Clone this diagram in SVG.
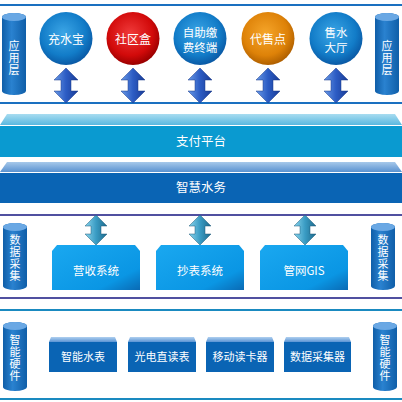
<svg xmlns="http://www.w3.org/2000/svg" width="402" height="402" viewBox="0 0 402 402">
<defs>
<radialGradient id="gBlue" cx="0.45" cy="0.4" r="0.6"><stop offset="0" stop-color="#3ca6e6"/><stop offset="0.7" stop-color="#127cc8"/><stop offset="1" stop-color="#0a5aa6"/></radialGradient>
<radialGradient id="gRed" cx="0.45" cy="0.4" r="0.6"><stop offset="0" stop-color="#f03a3a"/><stop offset="0.7" stop-color="#d20a0a"/><stop offset="1" stop-color="#9a0000"/></radialGradient>
<radialGradient id="gOrange" cx="0.45" cy="0.4" r="0.6"><stop offset="0" stop-color="#f5a52a"/><stop offset="0.7" stop-color="#de8208"/><stop offset="1" stop-color="#b06000"/></radialGradient>
<linearGradient id="gCyl" x1="0" y1="0" x2="1" y2="0"><stop offset="0" stop-color="#0f5ea8"/><stop offset="0.4" stop-color="#2a82d0"/><stop offset="1" stop-color="#0f5ea8"/></linearGradient>
<linearGradient id="gArrow" x1="0" y1="0" x2="1" y2="0"><stop offset="0" stop-color="#6a9ae6"/><stop offset="0.5" stop-color="#2c5cc4"/><stop offset="1" stop-color="#1a3c96"/></linearGradient>
<linearGradient id="gTeal" x1="0" y1="0" x2="1" y2="0"><stop offset="0" stop-color="#8ad4ec"/><stop offset="0.5" stop-color="#3a9cc4"/><stop offset="1" stop-color="#1e6a8c"/></linearGradient>
<linearGradient id="gTrap1" x1="0" y1="0" x2="0" y2="1"><stop offset="0" stop-color="#a8dcf0"/><stop offset="1" stop-color="#5ab8e0"/></linearGradient>
<linearGradient id="gTrap2" x1="0" y1="0" x2="0" y2="1"><stop offset="0" stop-color="#a6c8ea"/><stop offset="1" stop-color="#5a92d0"/></linearGradient>
<linearGradient id="gSys" x1="0" y1="0" x2="1" y2="1"><stop offset="0" stop-color="#1aa8f0"/><stop offset="0.75" stop-color="#0a96e4"/><stop offset="1" stop-color="#0a6ab4"/></linearGradient>
<linearGradient id="gHwTop" x1="0" y1="0" x2="0" y2="1"><stop offset="0" stop-color="#b0d0f0"/><stop offset="1" stop-color="#5a94d4"/></linearGradient>
</defs>
<style>
.t{font-family:"Noto Sans CJK SC","Liberation Sans",sans-serif;fill:#fff;text-anchor:middle}
.c{font-size:12px}
.c2{font-size:11.5px}
.b{font-size:12.5px}
.s{font-size:11.5px}
.h{font-size:11px}
.v{font-size:11px;writing-mode:vertical-rl;letter-spacing:1px}
.cyl{fill:url(#gCyl)}
.cyltop{fill:#6aa8e4}
.arr{fill:url(#gArrow);stroke:#1a3a8a;stroke-width:0.5}
.tarr{fill:url(#gTeal);stroke:#1e5a78;stroke-width:0.5}
.sys{fill:url(#gSys)}
.hwtop{fill:url(#gHwTop)}
.hw{fill:#0a64b4}
</style>

<g id="frames">
<line x1="0" y1="5" x2="402" y2="5" stroke="#1a70c0" stroke-width="2"/>
<line x1="0" y1="103" x2="402" y2="103" stroke="#1a70c0" stroke-width="2"/>
<line x1="0" y1="215" x2="402" y2="215" stroke="#5050a0" stroke-width="2"/>
<line x1="0" y1="298" x2="402" y2="298" stroke="#5050a0" stroke-width="2"/>
<line x1="0" y1="310" x2="402" y2="310" stroke="#1a8ac0" stroke-width="2"/>
<line x1="0" y1="399" x2="402" y2="399" stroke="#1a8ac0" stroke-width="2"/>
</g>

<g id="connectors">
<polygon class="arr" transform="translate(66,68)" points="0,0 12,12 5,12 5,23 12,23 0,35 -12,23 -5,23 -5,12 -12,12"/>
<polygon class="arr" transform="translate(133,68)" points="0,0 12,12 5,12 5,23 12,23 0,35 -12,23 -5,23 -5,12 -12,12"/>
<polygon class="arr" transform="translate(200,68)" points="0,0 12,12 5,12 5,23 12,23 0,35 -12,23 -5,23 -5,12 -12,12"/>
<polygon class="arr" transform="translate(268,68)" points="0,0 12,12 5,12 5,23 12,23 0,35 -12,23 -5,23 -5,12 -12,12"/>
<polygon class="arr" transform="translate(336,68)" points="0,0 12,12 5,12 5,23 12,23 0,35 -12,23 -5,23 -5,12 -12,12"/>
<polygon class="tarr" transform="translate(96,215)" points="0,0 11,11 5,11 5,19 11,19 0,30 -11,19 -5,19 -5,11 -11,11"/>
<polygon class="tarr" transform="translate(200,215)" points="0,0 11,11 5,11 5,19 11,19 0,30 -11,19 -5,19 -5,11 -11,11"/>
<polygon class="tarr" transform="translate(305,215)" points="0,0 11,11 5,11 5,19 11,19 0,30 -11,19 -5,19 -5,11 -11,11"/>
</g>

<g id="app-left">
<path class="cyl" d="M2,17 A12,4 0 0 1 26,17 V91 A12,4 0 0 1 2,91 Z"/>
<ellipse class="cyltop" cx="14" cy="17" rx="12" ry="4"/>
<text class="t v" x="14" y="58">应用层</text>
</g>
<g id="app-right">
<path class="cyl" d="M375,17 A12,4 0 0 1 399,17 V91 A12,4 0 0 1 375,91 Z"/>
<ellipse class="cyltop" cx="387" cy="17" rx="12" ry="4"/>
<text class="t v" x="387" y="58">应用层</text>
</g>

<g id="n1"><circle cx="66" cy="38.5" r="26.5" fill="url(#gBlue)"/><text class="t c" x="66" y="44">充水宝</text></g>
<g id="n2"><circle cx="133" cy="38.5" r="26.5" fill="url(#gRed)"/><text class="t c" x="133" y="44">社区盒</text></g>
<g id="n3"><circle cx="200" cy="38.5" r="26.5" fill="url(#gBlue)"/><text class="t c2" x="200" y="37">自助缴</text><text class="t c2" x="200" y="51.5">费终端</text></g>
<g id="n4"><circle cx="268" cy="38.5" r="26.5" fill="url(#gOrange)"/><text class="t c" x="268" y="44">代售点</text></g>
<g id="n5"><circle cx="336" cy="38.5" r="26.5" fill="url(#gBlue)"/><text class="t c2" x="336" y="37">售水</text><text class="t c2" x="336" y="51.5">大厅</text></g>

<g id="pay">
<polygon points="7,114 395,114 402,125 0,125" fill="url(#gTrap1)"/>
<rect x="0" y="126" width="402" height="31" fill="#0a9ad0"/>
<text class="t b" x="201" y="146">支付平台</text>
</g>
<g id="water">
<polygon points="7,162 395,162 402,172 0,172" fill="url(#gTrap2)"/>
<rect x="0" y="173" width="402" height="30" fill="#0a64b4"/>
<text class="t b" x="201" y="192">智慧水务</text>
</g>

<g id="dc-left">
<path class="cyl" d="M3,227 A12,4 0 0 1 27,227 V286 A12,4 0 0 1 3,286 Z"/>
<ellipse class="cyltop" cx="15" cy="227" rx="12" ry="4"/>
<text class="t v" x="15" y="258">数据采集</text>
</g>
<g id="dc-right">
<path class="cyl" d="M371,227 A12,4 0 0 1 395,227 V286 A12,4 0 0 1 371,286 Z"/>
<ellipse class="cyltop" cx="383" cy="227" rx="12" ry="4"/>
<text class="t v" x="383" y="258">数据采集</text>
</g>

<g id="s1"><path class="sys" d="M52,251 L57,245 L135,245 L140,251 V290 H52 Z"/><text class="t s" x="96" y="275">营收系统</text></g>
<g id="s2"><path class="sys" d="M156,251 L161,245 L239,245 L244,251 V290 H156 Z"/><text class="t s" x="200" y="275">抄表系统</text></g>
<g id="s3"><path class="sys" d="M260,251 L265,245 L343,245 L348,251 V290 H260 Z"/><text class="t s" x="304" y="275">管网GIS</text></g>

<g id="hw-left">
<path class="cyl" d="M3,326 A12,4 0 0 1 27,326 V387 A12,4 0 0 1 3,387 Z"/>
<ellipse class="cyltop" cx="15" cy="326" rx="12" ry="4"/>
<text class="t v" x="15" y="358">智能硬件</text>
</g>
<g id="hw-right">
<path class="cyl" d="M373,326 A12,4 0 0 1 397,326 V387 A12,4 0 0 1 373,387 Z"/>
<ellipse class="cyltop" cx="385" cy="326" rx="12" ry="4"/>
<text class="t v" x="385" y="358">智能硬件</text>
</g>

<g id="h1"><polygon class="hwtop" points="51,337 115,337 117,342 49,342"/><rect class="hw" x="49" y="342" width="68" height="30"/><text class="t h" x="83" y="361">智能水表</text></g>
<g id="h2"><polygon class="hwtop" points="130,337 194,337 196,342 128,342"/><rect class="hw" x="128" y="342" width="68" height="30"/><text class="t h" x="162" y="361">光电直读表</text></g>
<g id="h3"><polygon class="hwtop" points="208,337 272,337 274,342 206,342"/><rect class="hw" x="206" y="342" width="68" height="30"/><text class="t h" x="240" y="361">移动读卡器</text></g>
<g id="h4"><polygon class="hwtop" points="286,337 349,337 351,342 284,342"/><rect class="hw" x="284" y="342" width="67" height="30"/><text class="t h" x="317.5" y="361">数据采集器</text></g>
</svg>
